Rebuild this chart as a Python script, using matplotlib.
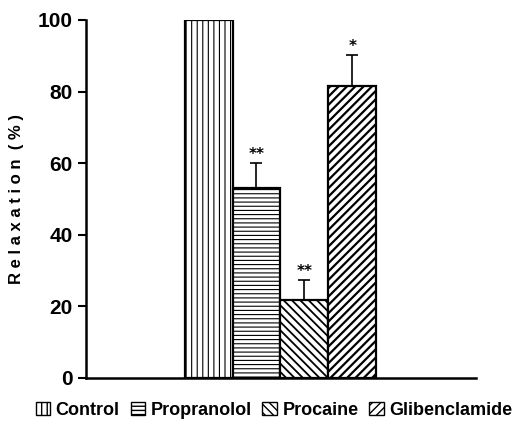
import matplotlib
matplotlib.use("Agg")
import matplotlib.pyplot as plt
from matplotlib.patches import Patch

groups = ["Control", "Propranolol", "Procaine", "Glibenclamide"]
relax = [100, 53, 21.8, 81.6]
err_up = [0, 7, 5.5, 8.5]
stars = ["", "**", "**", "*"]
hatches = ["|||", "----", "\\\\\\\\", "////"]
hatch_lw = [0.8, 0.8, 1.3, 1.6]

plt.rcParams['font.family'] = ['Liberation Sans Narrow', 'Liberation Sans', 'DejaVu Sans']
plt.rcParams['font.weight'] = 'bold'

fig = plt.figure(figsize=(5.27, 4.25), dpi=100)
ax = fig.add_axes([0.163, 0.1106, 0.740, 0.8424])

x = list(range(len(groups)))
handles = []
for xi, v, h, lw in zip(x, relax, hatches, hatch_lw):
    with plt.rc_context({'hatch.linewidth': lw}):
        ax.bar(xi, v, width=1.0, color="white", edgecolor="black",
               linewidth=1.6, hatch=h)
        handles.append(Patch(facecolor="white", edgecolor="black", hatch=h,
                             linewidth=1))

ax.errorbar(x, relax, yerr=[[0] * len(x), err_up], fmt="none",
            ecolor="black", elinewidth=1.2, capsize=4, capthick=1.2)

for xi, v, e, s in zip(x, relax, err_up, stars):
    if s:
        ax.text(xi, v + e + 0.3, s, ha="center", va="bottom", fontsize=11,
                family="DejaVu Sans", fontweight="bold")

ax.set_xlim(-2.56, 5.58)
ax.set_ylim(0, 100)
ax.set_yticks([0, 20, 40, 60, 80, 100])
ax.set_xticks([])
ax.tick_params(axis="y", direction="out", length=6, width=1.5, labelsize=15)
for side in ["top", "right"]:
    ax.spines[side].set_visible(False)
for side in ["left", "bottom"]:
    ax.spines[side].set_linewidth(1.8)

ax.set_ylabel("R e l a x a t i o n  ( % )", fontsize=12,
              family="Liberation Sans", fontweight="bold", labelpad=10)

fig.legend(handles, groups, loc="center", bbox_to_anchor=(0.52, 0.035),
           ncol=4, frameon=False, fontsize=13, handlelength=0.8,
           handleheight=0.8, handletextpad=0.3, columnspacing=0.6)

fig.savefig("out.png", dpi=100)
